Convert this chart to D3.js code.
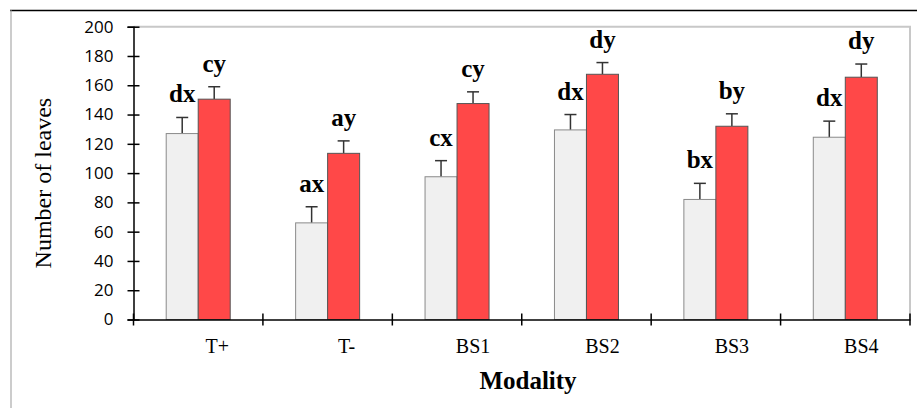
<!DOCTYPE html>
<html>
<head>
<meta charset="utf-8">
<script src="https://cdn.jsdelivr.net/npm/d3@7"></script>
<style>
  html, body { margin: 0; padding: 0; background: #fff; }
  svg { display: block; }
</style>
</head>
<body>
<svg id="chart" width="917" height="408"></svg>
<script>
const categories = ["T+", "T-", "BS1", "BS2", "BS3", "BS4"];
const seriesX = [127, 66, 97.5, 129.5, 82, 124.5];
const seriesXErr = [11, 11, 11, 10.5, 11, 11];
const seriesY = [150.5, 113.5, 147.5, 167.5, 132, 165.5];
const seriesYErr = [8.5, 8.5, 8, 8, 8.5, 9];
const lettersX = ["dx", "ax", "cx", "dx", "bx", "dx"];
const lettersY = ["cy", "ay", "cy", "dy", "by", "dy"];
const yTicks = [0, 20, 40, 60, 80, 100, 120, 140, 160, 180, 200];
const yTitle = "Number of leaves";
const xTitle = "Modality";

const svg = d3.select("#chart");
const pLeft = 133.5, pRight = 910, pTop = 26.7, pBottom = 319.5;

const x = d3.scaleBand().domain(categories).range([pLeft, pRight]).padding(0);
const y = d3.scaleLinear().domain([0, 200]).range([pBottom, pTop]);
const sub = d3.scaleBand().domain(["x", "y"]).range([-32, 32]).padding(0);

// outer frame
svg.append("line").attr("x1", 10).attr("x2", 917).attr("y1", 10.5).attr("y2", 10.5)
  .attr("stroke", "#000").attr("stroke-width", 1.5);
svg.append("line").attr("x1", 11).attr("x2", 11).attr("y1", 10).attr("y2", 408)
  .attr("stroke", "#999").attr("stroke-width", 1);

// plot area border (top and right)
svg.append("path")
  .attr("d", `M${pLeft},${pTop}H${pRight}V${pBottom}`)
  .attr("fill", "none").attr("stroke", "#c8c8c8").attr("stroke-width", 2);

const rows = categories.map((c, i) => ({
  c, i,
  vals: [
    { k: "x", v: seriesX[i], e: seriesXErr[i], t: lettersX[i] },
    { k: "y", v: seriesY[i], e: seriesYErr[i], t: lettersY[i] }
  ]
}));

const fills = { x: "#f0f0f0", y: "#ff4848" };
const strokes = { x: "#8a8a8a", y: "#555" };

const g = svg.append("g");
rows.forEach(r => {
  const cx = x(r.c) + x.bandwidth() / 2;
  r.vals.forEach(d => {
    const x0 = cx + sub(d.k);
    const w = sub.bandwidth();
    const mid = x0 + w / 2;
    g.append("line").attr("x1", mid).attr("x2", mid)
      .attr("y1", y(d.v)).attr("y2", y(d.v + d.e))
      .attr("stroke", "#333").attr("stroke-width", 1.5);
    g.append("line").attr("x1", mid - 6).attr("x2", mid + 6)
      .attr("y1", y(d.v + d.e)).attr("y2", y(d.v + d.e))
      .attr("stroke", "#333").attr("stroke-width", 1.5);
    g.append("rect")
      .attr("x", x0).attr("y", y(d.v))
      .attr("width", w).attr("height", y(0) - y(d.v))
      .attr("fill", fills[d.k]).attr("stroke", strokes[d.k]).attr("stroke-width", 1);
    g.append("text")
      .attr("x", mid).attr("y", y(d.v + d.e) - 15)
      .attr("text-anchor", "middle")
      .attr("font-family", "'Liberation Serif', 'Times New Roman', serif")
      .attr("font-weight", "bold").attr("font-size", 25)
      .attr("fill", "#000")
      .text(d.t);
  });
});

// Y axis
const yAxis = svg.append("g").attr("transform", `translate(${pLeft},0)`)
  .call(d3.axisLeft(y).tickValues(yTicks).tickSize(6).tickPadding(14));
yAxis.select(".domain").attr("stroke", "#000").attr("stroke-width", 1.5);
yAxis.selectAll(".tick line").attr("x1", -6).attr("x2", 6).attr("stroke", "#000").attr("stroke-width", 1.5);
yAxis.selectAll(".tick text")
  .attr("font-family", "'Open Sans', 'Liberation Sans', sans-serif")
  .attr("font-size", 17).attr("fill", "#000");

// X axis
const xAxis = svg.append("g").attr("transform", `translate(0,${pBottom})`)
  .call(d3.axisBottom(x).tickSize(0).tickPadding(19));
xAxis.select(".domain").attr("stroke", "#000").attr("stroke-width", 1.5);
xAxis.selectAll(".tick text")
  .attr("font-family", "'Liberation Serif', 'Times New Roman', serif")
  .attr("font-size", 20).attr("fill", "#000")
  .attr("dx", (d, i) => i < 2 ? 19 : 16);
const bounds = categories.map(c => x(c)).concat([x(categories[categories.length - 1]) + x.bandwidth()]);
xAxis.selectAll(".bound").data(bounds).enter().append("line")
  .attr("x1", d => d).attr("x2", d => d).attr("y1", -6).attr("y2", 6)
  .attr("stroke", "#000").attr("stroke-width", 1.5);

// Titles
svg.append("text")
  .attr("transform", `translate(51,${(pTop + pBottom) / 2 + 10}) rotate(-90)`)
  .attr("text-anchor", "middle")
  .attr("font-family", "'Liberation Serif', 'Times New Roman', serif")
  .attr("font-size", 24).attr("fill", "#000")
  .text(yTitle);
svg.append("text")
  .attr("x", 528).attr("y", 389)
  .attr("text-anchor", "middle")
  .attr("font-family", "'Liberation Serif', 'Times New Roman', serif")
  .attr("font-weight", "bold").attr("font-size", 25).attr("fill", "#000")
  .text(xTitle);
</script>
</body>
</html>
